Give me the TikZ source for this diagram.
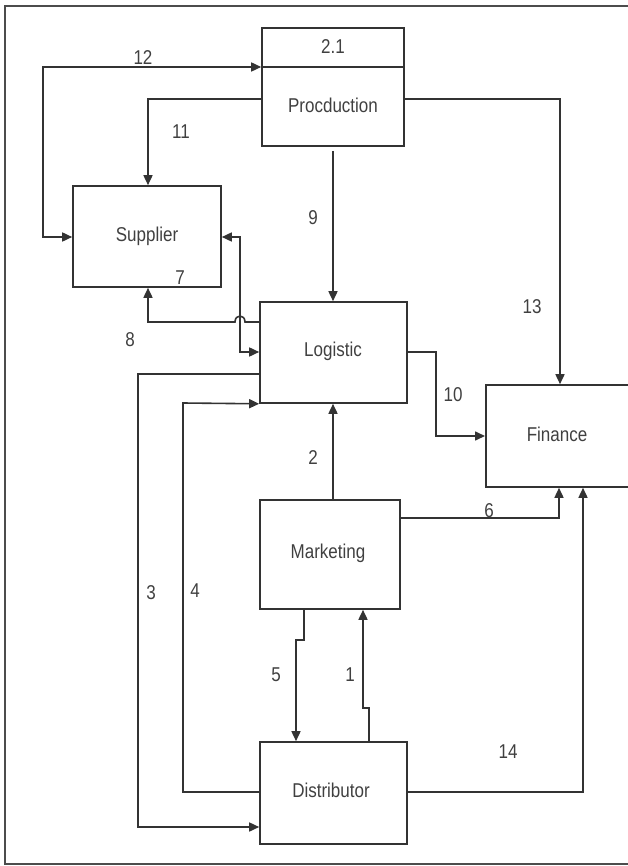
\documentclass[tikz,border=0pt]{standalone}
\usepackage{fontspec}
\setmainfont[FakeStretch=0.85]{Liberation Sans}
\usetikzlibrary{arrows.meta}
\begin{document}
\begin{tikzpicture}[x=1pt,y=-1pt,
  box/.style={draw=black!80, line width=1.6pt, rectangle, inner sep=0pt},
  txt/.style={text=black!75, font=\fontsize{20}{24}\selectfont, inner sep=0pt},
  lbl/.style={text=black!75, font=\fontsize{20}{24}\selectfont, inner sep=0pt},
  conn/.style={draw=black!80, line width=1.6pt},
  arr/.style={conn, -{Triangle[length=10pt,width=9pt]}},
  arrb/.style={conn, {Triangle[length=10pt,width=9pt]}-{Triangle[length=10pt,width=9pt]}},
  frame/.style={draw=black!70, line width=2pt}]
\useasboundingbox (0,0) rectangle (628,866);
\clip (0,0) rectangle (628,866);
% outer frame (cut at right)
\draw[frame] (700,6) -- (5,6) -- (5,864) -- (700,864);
% boxes
\node[box, minimum width=142pt, minimum height=118pt] (prod) at (333,87) {};
\draw[conn] (prod.west |- 0,67) -- (prod.east |- 0,67);
\node[txt] (prodnum) at (333,47) {2.1};
\node[txt] (prodtxt) at (333,105) {Procduction};
\node[box, minimum width=148pt, minimum height=101pt] (sup) at (147,236.5) {};
\node[txt] (suptxt) at (147,236) {Supplier};
\node[box, minimum width=147pt, minimum height=101pt] (log) at (333.5,352.5) {};
\node[txt] (logtxt) at (333,351) {Logistic};
\node[box, minimum width=200pt, minimum height=102pt, anchor=west] (fin) at (485,436) {};
\node[txt] (fintxt) at (557,434) {Finance};
\node[box, minimum width=140pt, minimum height=109pt] (mkt) at (330,554.5) {};
\node[txt] (mkttxt) at (328,553) {Marketing};
\node[box, minimum width=147pt, minimum height=102pt] (dist) at (333.5,793) {};
\node[txt] (disttxt) at (331,790) {Distributor};
% connectors
% 12
\draw[arrb] (sup.west |- 0,237) -- (43,237) -- (43,67) -- (prod.west |- 0,67);
% 11
\draw[arr] (prod.west |- 0,99) -| (148,0 |- sup.north);
% 9
\draw[arr, shorten <=4pt] (333,0 |- prod.south) -- (333,0 |- log.north);
% 13
\draw[arr] (prod.east |- 0,99) -| (560,0 |- fin.north);
% 7
\draw[arrb] (sup.east |- 0,237) -- (240,237) -- (240,352) -- (log.west |- 0,352);
% 8
\draw[arr] (log.west |- 0,322) -- (245,322) .. controls (245,314) and (235,314) .. (235,322) -- (148,322) -- (148,0 |- sup.south);
% 3
\draw[arr] (log.west |- 0,374) -- (138,374) -- (138,827) -- (dist.west |- 0,827);
% 4
\draw[arr] (dist.west |- 0,792) -- (183,792) -- (183,403) -- (log.south west);
% 2
\draw[arr] (333,0 |- mkt.north) -- (333,0 |- log.south);
% 10
\draw[arr] (log.east |- 0,352) -- (436,352) -- (436,436) -- (fin.west |- 0,436);
% 6
\draw[arr] (mkt.east |- 0,518) -| (559,0 |- fin.south);
% 14
\draw[arr] (dist.east |- 0,792) -| (583,0 |- fin.south);
% 5
\draw[arr] (304,0 |- mkt.south) -- (304,640) -- (296,640) -- (296,0 |- dist.north);
% 1
\draw[arr] (369,0 |- dist.north) -- (369,708) -- (363,708) -- (363,0 |- mkt.south);
% labels
\node[lbl] (l12) at (143,58) {12};
\node[lbl] (l11) at (181,132) {11};
\node[lbl] (l9) at (313,218) {9};
\node[lbl] (l13) at (532,307) {13};
\node[lbl] (l7) at (180,278) {7};
\node[lbl] (l8) at (130,340) {8};
\node[lbl] (l3) at (151,593) {3};
\node[lbl] (l4) at (195,591) {4};
\node[lbl] (l2) at (313,458) {2};
\node[lbl] (l10) at (453,395) {10};
\node[lbl] (l6) at (489,511) {6};
\node[lbl] (l14) at (508,752) {14};
\node[lbl] (l5) at (276,675) {5};
\node[lbl] (l1) at (350,675) {1};
\end{tikzpicture}
\end{document}
